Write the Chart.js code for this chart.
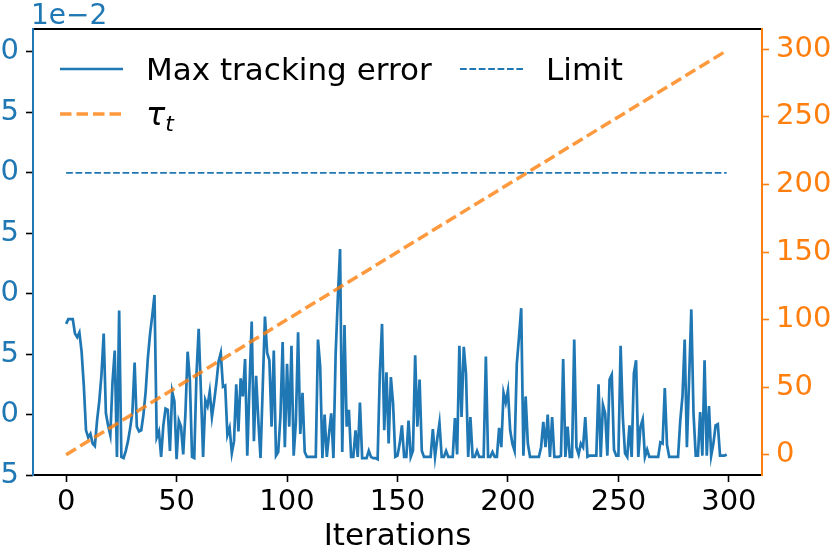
<!DOCTYPE html>
<html>
<head>
<meta charset="utf-8">
<script src="https://cdn.jsdelivr.net/npm/chart.js@4.4.1/dist/chart.umd.min.js"></script>
<style>
  html, body { margin: 0; padding: 0; background: #fff; }
  #wrap { position: relative; width: 830px; height: 554px; overflow: hidden; }
  #chart { position: absolute; left: -40px; top: 0; }
</style>
</head>
<body>
<div id="wrap"><canvas id="chart" width="870" height="554"></canvas></div>
<script>
// max tracking error per iteration, in units of 1e-2
const maxTrackingError = [
  1.75, 1.79, 1.79, 1.79, 1.67, 1.64, 1.68, 1.52, 1.24, 0.87,
  0.81, 0.84, 0.76, 0.74, 0.95, 1.11, 1.33, 1.67, 1.01, 0.91,
  0.83, 1.27, 1.53, 0.65, 1.86, 0.65, 0.64, 0.70, 0.78, 0.89,
  1.02, 1.43, 0.90, 0.86, 0.87, 1.00, 1.19, 1.47, 1.67, 1.82,
  1.99, 0.81, 0.86, 0.65, 0.91, 1.05, 1.04, 0.70, 1.19, 1.11,
  0.63, 0.95, 0.90, 0.67, 1.01, 1.52, 1.29, 0.65, 0.64, 1.33,
  1.71, 1.20, 0.65, 1.12, 1.07, 1.19, 0.98, 1.11, 1.26, 1.44,
  1.51, 1.23, 1.24, 0.83, 0.89, 0.68, 0.78, 1.25, 0.86, 1.30,
  1.15, 1.46, 0.66, 1.23, 1.77, 0.78, 1.32, 0.95, 0.64, 1.23,
  1.81, 1.51, 1.45, 0.90, 1.53, 0.66, 0.69, 0.98, 1.60, 0.73,
  1.42, 0.90, 1.57, 0.66, 0.94, 1.68, 0.84, 1.18, 0.69, 0.65,
  0.65, 0.65, 0.65, 0.65, 1.62, 1.40, 0.64, 1.00, 0.65, 0.84,
  1.01, 0.64, 1.50, 1.97, 2.37, 0.69, 1.74, 0.90, 1.04, 0.65,
  0.65, 0.87, 0.65, 1.10, 0.64, 0.64, 0.64, 0.70, 0.65, 0.64,
  0.64, 0.63, 1.34, 1.75, 0.87, 1.35, 0.76, 1.31, 1.09, 0.65,
  0.66, 0.76, 0.91, 0.65, 0.65, 0.95, 0.65, 0.70, 1.49, 0.90,
  1.29, 0.70, 0.65, 0.65, 0.65, 0.65, 0.88, 0.65, 0.80, 0.93,
  0.65, 0.65, 0.70, 0.65, 0.65, 0.65, 0.97, 0.67, 1.57, 0.98,
  1.56, 1.34, 0.65, 0.98, 0.65, 0.65, 0.70, 0.65, 0.65, 0.65,
  1.48, 0.65, 0.65, 0.69, 0.65, 0.65, 0.89, 0.73, 1.18, 1.10,
  1.20, 0.87, 0.76, 0.70, 1.42, 1.64, 1.88, 0.66, 1.15, 0.76,
  0.65, 0.65, 0.65, 0.65, 0.65, 0.73, 0.94, 0.73, 1.00, 0.65,
  0.98, 0.65, 0.65, 0.65, 0.66, 1.46, 0.65, 0.90, 0.65, 0.65,
  1.62, 0.73, 0.67, 0.76, 0.73, 0.98, 0.65, 0.66, 0.66, 0.66,
  0.66, 1.25, 0.65, 1.08, 1.01, 0.66, 1.29, 1.33, 0.71, 0.66,
  0.66, 1.57, 0.98, 0.68, 0.65, 0.91, 0.65, 1.34, 1.45, 0.65,
  0.90, 0.96, 0.65, 0.71, 0.65, 0.65, 0.65, 0.65, 0.65, 0.77,
  0.76, 1.22, 0.75, 0.65, 0.65, 0.65, 0.65, 0.65, 0.95, 1.15,
  1.62, 0.73, 1.29, 1.87, 1.01, 0.66, 0.66, 1.02, 0.66, 1.45,
  0.66, 1.07, 0.66, 0.76, 0.91, 0.92, 0.66, 0.66, 0.66, 0.67
];
const limitValue = 3.0;
const limitIterations = [0, 299];
const tauIterations = [0, 299];
const tauValues = [0, 299];

const xTicks = [0, 50, 100, 150, 200, 250, 300];
const errorTicks = [0.5, 1.0, 1.5, 2.0, 2.5, 3.0, 3.5, 4.0];
const tauTicks = [0, 50, 100, 150, 200, 250, 300];

const FONT = "'DejaVu Sans', sans-serif";
const BLUE = '#1f77b4';
const ORANGE = '#ff7f0e';
const TAU_COLOR = 'rgba(255, 127, 14, 0.8)';
const TICK_SIZE = 29;
const LABEL_SIZE = 31;

const errorPoints = maxTrackingError.map((v, i) => ({ x: i, y: v }));
const limitPoints = limitIterations.map(it => ({ x: it, y: limitValue }));
const tauPoints = tauIterations.map((it, i) => ({ x: it, y: tauValues[i] }));

function setTicks(list) {
    return scale => { scale.ticks = list.map(v => ({ value: v })); };
}

// spines, offset text and legend, drawn like matplotlib
const extras = {
    id: "extras",
    afterDraw(chart) {
        const ctx = chart.ctx;
        const a = chart.chartArea;
        const seg = (x1, y1, x2, y2) => { ctx.beginPath(); ctx.moveTo(x1, y1); ctx.lineTo(x2, y2); ctx.stroke(); };
        ctx.save();
        ctx.lineWidth = 2;
        ctx.strokeStyle = "#000";
        seg(a.left, a.top, a.right, a.top);
        seg(a.left, a.bottom, a.right, a.bottom);
        ctx.strokeStyle = BLUE;
        seg(a.left, a.top - 1, a.left, a.bottom + 1);
        ctx.strokeStyle = ORANGE;
        seg(a.right, a.top - 1, a.right, a.bottom + 1);

        // offset text of the left axis
        ctx.fillStyle = BLUE;
        ctx.font = "28px " + FONT;
        ctx.textBaseline = "alphabetic";
        ctx.textAlign = "left";
        ctx.fillText("1e\u22122", a.left - 2, 24);

        // legend
        const L = a.left - 33;
        ctx.lineCap = "butt";
        ctx.strokeStyle = BLUE;
        ctx.lineWidth = 2.7;
        seg(L + 60, 69, L + 123, 69);
        ctx.lineWidth = 1.8;
        ctx.setLineDash([6.7, 2.7]);
        seg(L + 460, 69, L + 523, 69);
        ctx.strokeStyle = TAU_COLOR;
        ctx.lineWidth = 3.5;
        ctx.setLineDash([11.5, 5]);
        seg(L + 60, 114, L + 123, 114);
        ctx.setLineDash([]);

        ctx.fillStyle = "#000";
        ctx.font = LABEL_SIZE + "px " + FONT;
        ctx.fillText("Max tracking error", L + 146, 80);
        ctx.fillText("Limit", L + 546, 80);
        ctx.font = "italic 32px " + FONT;
        ctx.fillText("\u03c4", L + 146, 125);
        const w = ctx.measureText("\u03c4").width;
        ctx.font = "italic 22px " + FONT;
        ctx.fillText("t", L + 146 + w, 131);
        ctx.restore();
    }
};

new Chart(document.getElementById("chart"), {
    type: "line",
    data: {
        datasets: [
            {
                label: "\u03c4t",
                data: tauPoints,
                yAxisID: "y2",
                borderColor: TAU_COLOR,
                borderWidth: 3.5,
                borderDash: [11.5, 5],
                pointRadius: 0,
                order: 0,
            },
            {
                label: "Limit",
                data: limitPoints,
                yAxisID: "y",
                borderColor: BLUE,
                borderWidth: 1.8,
                borderDash: [6.7, 2.7],
                pointRadius: 0,
                order: 1,
            },
            {
                label: "Max tracking error",
                data: errorPoints,
                yAxisID: "y",
                borderColor: BLUE,
                borderWidth: 2.7,
                pointRadius: 0,
                tension: 0,
                order: 2,
            },
        ],
    },
    options: {
        responsive: false,
        animation: false,
        devicePixelRatio: 1,
        layout: { padding: { top: 29, left: 0, right: 0, bottom: 0 } },
        plugins: { legend: { display: false }, tooltip: { enabled: false } },
        scales: {
            x: {
                type: "linear",
                min: -15,
                max: 315,
                afterBuildTicks: setTicks(xTicks),
                afterFit: s => { s.height = 79; },
                border: { display: false },
                grid: { drawOnChartArea: false, tickLength: 7, tickWidth: 1.6, tickColor: "#000" },
                ticks: { font: { family: FONT, size: TICK_SIZE }, color: "#000", padding: 3, maxRotation: 0, autoSkip: false },
                title: { display: true, text: "Iterations", color: "#000", font: { family: FONT, size: LABEL_SIZE }, padding: { top: 0, bottom: -2 } },
            },
            y: {
                position: "left",
                min: 0.5,
                max: 4.19,
                afterBuildTicks: setTicks(errorTicks),
                afterFit: s => { s.width = 73; },
                border: { display: false },
                grid: { drawOnChartArea: false, tickLength: 7, tickWidth: 1.6, tickColor: "#000" },
                ticks: { font: { family: FONT, size: TICK_SIZE }, color: BLUE, padding: 7, callback: v => v.toFixed(1) },
            },
            y2: {
                position: "right",
                min: -15,
                max: 315,
                afterBuildTicks: setTicks(tauTicks),
                afterFit: s => { s.width = 68; },
                border: { display: false },
                grid: { drawOnChartArea: false, tickLength: 7, tickWidth: 1.6, tickColor: ORANGE },
                ticks: { font: { family: FONT, size: TICK_SIZE }, color: ORANGE, padding: 7 },
            },
        },
    },
    plugins: [extras],
});
</script>
</body>
</html>
